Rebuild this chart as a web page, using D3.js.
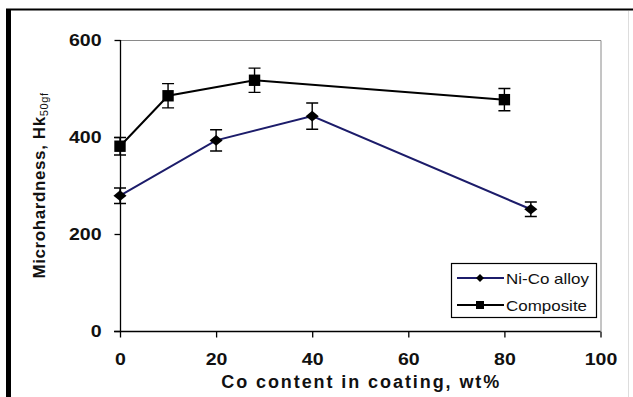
<!DOCTYPE html>
<html>
<head>
<meta charset="utf-8">
<script src="https://cdn.jsdelivr.net/npm/d3@7"></script>
<style>
  body { margin: 0; background: #fff; }
  svg { display: block; }
  text { font-family: "Liberation Sans", Arial, sans-serif; }
</style>
</head>
<body>
<div id="chart"></div>
<script>
// values
const xTicks = [0, 20, 40, 60, 80, 100];
const yTicks = [0, 200, 400, 600];

const niX = [0, 20, 40, 85.5];
const niY = [279, 393, 443, 251];
const niErr = [16, 22, 27, 15];

const compX = [0, 10, 28, 80];
const compY = [381, 485, 517, 477];
const compErr = [18, 25, 25, 23];

const legendNames = ["Ni-Co alloy", "Composite"];

const width = 633, height = 397;
const margin = {top: 40, right: 32, bottom: 66, left: 120};

const x = d3.scaleLinear()
  .domain([0, 100])
  .range([margin.left, width - margin.right - 0.5]);
const y = d3.scaleLinear()
  .domain([0, 600])
  .range([height - margin.bottom, margin.top]);

const svg = d3.select("#chart")
  .append("svg")
  .attr("width", width)
  .attr("height", height);

// outer frame of the scanned figure
svg.append("rect").attr("x", 6).attr("y", 9).attr("width", 5).attr("height", height - 9).attr("fill", "#000");
svg.append("line").attr("x1", 6).attr("x2", width).attr("y1", 9.5).attr("y2", 9.5)
  .attr("stroke", "#000").attr("stroke-width", 2);
svg.append("line").attr("x1", 628.5).attr("x2", 628.5).attr("y1", 11).attr("y2", height)
  .attr("stroke", "#ddd").attr("stroke-width", 1);

// plot box top / right
svg.append("path")
  .attr("d", `M${x(0)},${y(600) + 0.5}H${x(100) + 0.5}V${y(0)}`)
  .attr("fill", "none")
  .attr("stroke", "#8a8a8a")
  .attr("stroke-width", 1);

// stretch text a bit horizontally, the scan is wider than tall
function stretch(sel, k) {
  sel.each(function() {
    const w = this.getComputedTextLength();
    d3.select(this).attr("textLength", w * k).attr("lengthAdjust", "spacingAndGlyphs");
  });
}

const xG = svg.append("g")
  .attr("transform", `translate(0,${y(0) + 0.5})`)
  .call(d3.axisBottom(x).tickValues(xTicks).tickSize(6).tickPadding(16).tickSizeOuter(0));
xG.select(".domain").attr("d", `M${x(0) - 6},0H${x(100)}`).attr("stroke-width", 1.3);
xG.selectAll(".tick line").attr("stroke-width", 1.3);
xG.selectAll(".tick text")
  .attr("font-size", 16).attr("font-weight", "bold").attr("fill", "#111")
  .attr("font-family", "'Liberation Sans', Arial, sans-serif")
  .call(stretch, 1.22);

const yG = svg.append("g")
  .attr("transform", `translate(${x(0) + 0.5},0)`)
  .call(d3.axisLeft(y).tickValues(yTicks).tickSize(6).tickPadding(13).tickSizeOuter(0));
yG.select(".domain").attr("d", `M0,${y(600)}V${y(0)}`).attr("stroke-width", 1.3);
yG.selectAll(".tick line").attr("stroke-width", 1.3);
yG.selectAll(".tick text")
  .attr("font-size", 16).attr("font-weight", "bold").attr("fill", "#111")
  .attr("font-family", "'Liberation Sans', Arial, sans-serif")
  .call(stretch, 1.22);

// axis titles
svg.append("text")
  .attr("x", (x(0) + x(100)) / 2)
  .attr("y", 388)
  .attr("text-anchor", "middle")
  .attr("font-size", 18)
  .attr("font-weight", "bold")
  .attr("fill", "#111")
  .attr("textLength", 278)
  .attr("lengthAdjust", "spacing")
  .text("Co content in coating, wt%");

const yt = svg.append("text")
  .attr("transform", `translate(45,${(y(0) + y(600)) / 2}) rotate(-90)`)
  .attr("text-anchor", "middle")
  .attr("font-size", 17)
  .attr("font-weight", "bold")
  .attr("fill", "#111")
  .attr("letter-spacing", 0.6);
yt.append("tspan").text("Microhardness, Hk");
yt.append("tspan").attr("font-size", 11).attr("font-weight", "normal").attr("dy", 3).text("50gf");

// series
const ni = niX.map((v, i) => ({x: v, y: niY[i], e: niErr[i]}));
const comp = compX.map((v, i) => ({x: v, y: compY[i], e: compErr[i]}));

const line = d3.line().x(d => x(d.x)).y(d => y(d.y));

function drawErr(data) {
  const g = svg.append("g").attr("stroke", "#000").attr("stroke-width", 1.4);
  g.selectAll("path")
    .data(data)
    .join("path")
    .attr("fill", "none")
    .attr("d", d => {
      const cx = x(d.x), t = y(d.y + d.e), b = y(d.y - d.e);
      return `M${cx},${t}V${b}M${cx - 6},${t}H${cx + 6}M${cx - 6},${b}H${cx + 6}`;
    });
}

drawErr(ni);
drawErr(comp);

svg.append("path")
  .datum(ni)
  .attr("fill", "none")
  .attr("stroke", "#1c1c6a")
  .attr("stroke-width", 2)
  .attr("d", line);

svg.append("path")
  .datum(comp)
  .attr("fill", "none")
  .attr("stroke", "#000")
  .attr("stroke-width", 2)
  .attr("d", line);

const diamond = d3.symbol().type(d3.symbolDiamond2).size(90);
const square = d3.symbol().type(d3.symbolSquare).size(130);

svg.append("g")
  .selectAll("path")
  .data(ni)
  .join("path")
  .attr("transform", d => `translate(${x(d.x)},${y(d.y)}) scale(1.1,0.9)`)
  .attr("d", diamond)
  .attr("fill", "#000");

svg.append("g")
  .selectAll("path")
  .data(comp)
  .join("path")
  .attr("transform", d => `translate(${x(d.x)},${y(d.y)})`)
  .attr("d", square)
  .attr("fill", "#000");

// legend
const lg = svg.append("g");
lg.append("rect")
  .attr("x", 451.5).attr("y", 263.5)
  .attr("width", 145).attr("height", 54)
  .attr("fill", "#fff")
  .attr("stroke", "#000")
  .attr("stroke-width", 1.2);

const legendRows = [
  {name: legendNames[0], color: "#1c1c6a", sym: d3.symbol().type(d3.symbolDiamond2).size(40), yy: 278},
  {name: legendNames[1], color: "#000", sym: d3.symbol().type(d3.symbolSquare).size(64), yy: 305}
];
legendRows.forEach(r => {
  lg.append("line")
    .attr("x1", 457).attr("x2", 504)
    .attr("y1", r.yy).attr("y2", r.yy)
    .attr("stroke", r.color).attr("stroke-width", 2);
  lg.append("path")
    .attr("transform", `translate(480,${r.yy})`)
    .attr("d", r.sym)
    .attr("fill", "#000");
  lg.append("text")
    .attr("x", 506)
    .attr("y", r.yy + 5.5)
    .attr("font-size", 15)
    .attr("fill", "#111")
    .text(r.name)
    .call(stretch, 1.13);
});
</script>
</body>
</html>
